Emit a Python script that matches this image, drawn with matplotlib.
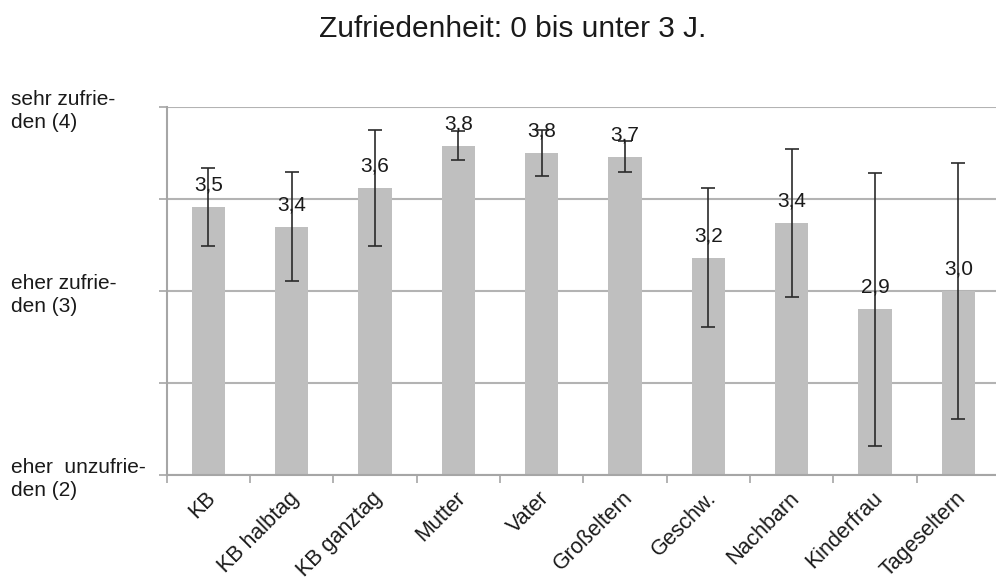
import matplotlib.pyplot as plt
from matplotlib.ticker import FixedLocator
from matplotlib.transforms import ScaledTranslation

plt.rcParams['font.family'] = ['Liberation Sans', 'DejaVu Sans']

kategorien = ['KB', 'KB halbtag', 'KB ganztag', 'Mutter', 'Vater', 'Großeltern',
              'Geschw.', 'Nachbarn', 'Kinderfrau', 'Tageseltern']
mittelwerte = [3.455, 3.35, 3.56, 3.79, 3.75, 3.73, 3.18, 3.37, 2.90, 3.00]
fehler = [0.213, 0.295, 0.315, 0.08, 0.127, 0.085, 0.378, 0.40, 0.741, 0.696]
beschriftung = ['3,5', '3,4', '3,6', '3,8', '3,8', '3,7', '3,2', '3,4', '2,9', '3,0']
y_ticks = [2, 2.5, 3, 3.5, 4]
y_labels = ['eher  unzufrie-\nden (2)', '', 'eher zufrie-\nden (3)', '', 'sehr zufrie-\nden (4)']

W, H = 996, 583
fig = plt.figure(figsize=(W / 100, H / 100), dpi=100)
ax = fig.add_axes([166.7 / W, (H - 475) / H, 833.3 / W, 368 / H])

x = list(range(len(kategorien)))
ax.bar(x, mittelwerte, width=0.4, color='#bfbfbf', zorder=2)
ax.errorbar(x, mittelwerte, yerr=fehler, fmt='none', ecolor='#2b2b2b',
            elinewidth=1.2, capsize=5, capthick=1.2, zorder=3)

# Werte über den Balken, oben an der Plotfläche begrenzt
for xi, v, t in zip(x, mittelwerte, beschriftung):
    ly = min(v + 0.09, 3.90)
    ax.text(xi, ly, t, ha='center', va='baseline', fontsize=15, color='#1a1a1a', zorder=4)

ax.set_xlim(-0.5, len(kategorien) - 0.5)
ax.set_ylim(2, 4)

ax.set_yticks(y_ticks)
ax.set_yticklabels(y_labels, fontsize=15, color='#1a1a1a', linespacing=1.25)
for lab in ax.get_yticklabels():
    lab.set_horizontalalignment('left')
ax.tick_params(axis='y', length=6, width=1.2, color='#a6a6a6', pad=106)
ax.yaxis.grid(True, color='#b3b3b3', linewidth=1.5, zorder=0)

ax.set_xticks(x)
ax.set_xticklabels(kategorien, rotation=45, ha='right', rotation_mode='anchor',
                   fontsize=15.5, color='#1a1a1a')
ax.tick_params(axis='x', which='major', length=0, pad=9)
shift = ScaledTranslation(-3 / 100, 0, fig.dpi_scale_trans)
for lab in ax.get_xticklabels():
    lab.set_transform(lab.get_transform() + shift)
ax.xaxis.set_minor_locator(FixedLocator([i - 0.5 for i in range(len(kategorien) + 1)]))
ax.tick_params(axis='x', which='minor', length=6, width=1.2, color='#a6a6a6')

for s in ['top', 'right']:
    ax.spines[s].set_visible(False)
for s in ['left', 'bottom']:
    ax.spines[s].set_color('#a6a6a6')
    ax.spines[s].set_linewidth(1.5)

fig.text(512.5 / W, 1 - 36.7 / H, 'Zufriedenheit: 0 bis unter 3 J.',
         ha='center', va='baseline', fontsize=21.5, color='#1a1a1a')

fig.savefig('out.png', dpi=100)
